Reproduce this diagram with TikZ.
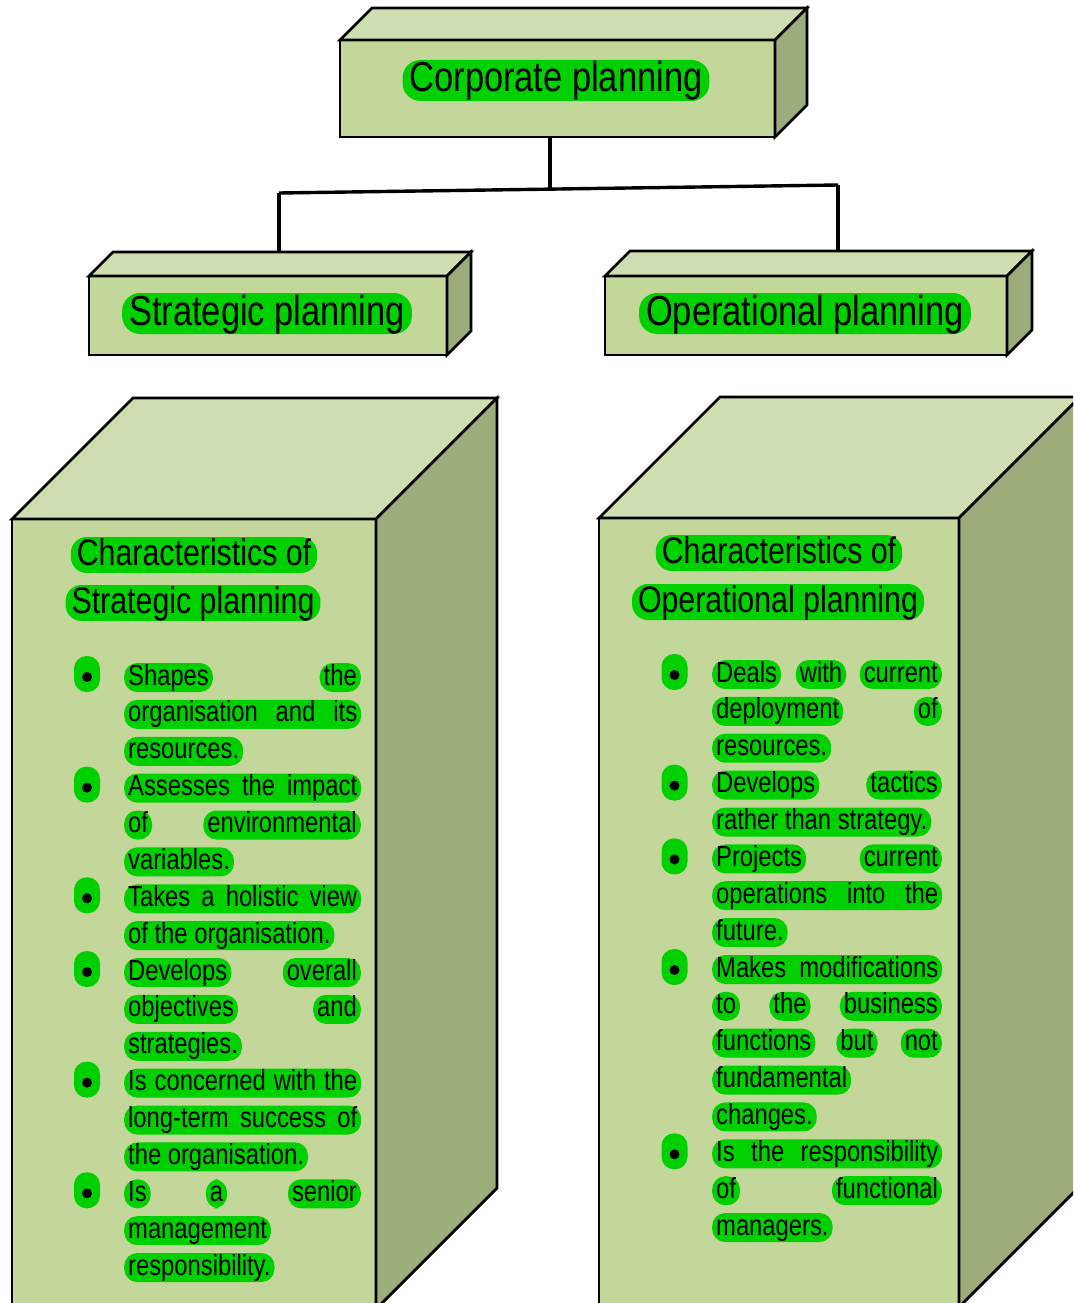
\documentclass[tikz,border=0pt]{standalone}
\usepackage{fontspec}
\setmainfont{Liberation Sans}[FakeStretch=0.82]
\usepackage{tikz}
\usetikzlibrary{calc}

\definecolor{frontgreen}{RGB}{196,215,155}
\definecolor{topgreen}{RGB}{207,222,176}
\definecolor{sidegreen}{RGB}{157,172,123}
\definecolor{hlgreen}{RGB}{0,208,0}

\newcommand{\bodyfont}{\fontsize{29pt}{35pt}\selectfont}
\newcommand{\headfont}{\fontsize{37pt}{44pt}\selectfont}
\newcommand{\titlefont}{\fontsize{42pt}{50pt}\selectfont}

% top and side faces of a block, drawn from its front node
\newcommand{\cubefaces}[2]{%
  \path[boxline, fill=topgreen] (#1.north west) -- ++(#2,-#2)
    -- ([shift={(#2,-#2)}]#1.north east) -- (#1.north east) -- cycle;
  \path[boxline, fill=sidegreen] (#1.north east) -- ++(#2,-#2)
    -- ([shift={(#2,-#2)}]#1.south east) -- (#1.south east) -- cycle;
  \coordinate (#1-back) at ([shift={(#2,-#2)}]#1.north west);
}

\tikzset{
 facebox/.style={draw=black, line width=2.8pt, fill=frontgreen, inner sep=0pt, outer sep=0pt},
 boxline/.style={draw=black, line width=2.8pt, line join=miter},
 link/.style={draw=black, line width=3.4pt},
 hl/.style={fill=hlgreen, rounded corners=13pt, inner xsep=4pt, inner ysep=1pt,
   text height=21pt, text depth=6pt, font=\bodyfont},
 headpill/.style={hl, rounded corners=16pt, inner xsep=6pt, text height=27pt,
   text depth=7pt, font=\headfont, anchor=base},
 titlepill/.style={hl, rounded corners=18pt, inner xsep=7pt, text height=31pt,
   text depth=8pt, font=\titlefont, anchor=base},
 bulletpill/.style={fill=hlgreen, rounded corners=12.5pt, minimum width=26pt,
   minimum height=36pt, inner sep=0pt}
}

\begin{document}
\begin{tikzpicture}[x=1pt, y=-1pt]
\useasboundingbox (0,0) rectangle (1073,1303);
\clip (0,0) rectangle (1073,1303);

% blocks
\path (557.5,88.5) node[name=corp, facebox, minimum width=435pt, minimum height=97pt] {};
\cubefaces{corp}{32}
\path (268,315.5) node[name=strat, facebox, minimum width=358pt, minimum height=79pt] {};
\cubefaces{strat}{24}
\path (806,315.5) node[name=oper, facebox, minimum width=402pt, minimum height=79pt] {};
\cubefaces{oper}{25}
\path (194,914) node[name=charS, facebox, minimum width=364pt, minimum height=790pt] {};
\cubefaces{charS}{121}
\path (779,912.5) node[name=charO, facebox, minimum width=360pt, minimum height=789pt] {};
\cubefaces{charO}{121}

% titles
\path (556,92) node[name=corptext, titlepill] {Corporate planning};
\path (267,325) node[name=strattext, titlepill] {Strategic planning};
\path (805,325) node[name=opertext, titlepill] {Operational planning};

% tree lines
\coordinate (fork) at (550,189);
\coordinate (forkL) at (279,193);
\coordinate (forkR) at (838,185);
\draw[link] (corp.south -| fork) -- (fork);
\draw[link] (forkL) -- (forkR);
\draw[link] (forkL) -- (forkL |- strat-back);
\draw[link] (forkR) -- (forkR |- oper-back);

% headings
\path (194,565) node[name=charShead1, headpill] {Characteristics of};
\path (193,613) node[name=charShead2, headpill] {Strategic planning};
\path (779,563) node[name=charOhead1, headpill] {Characteristics of};
\path (778,612) node[name=charOhead2, headpill] {Operational planning};

% bullets
\foreach \by [count=\k] in {685,795.6,906.3,980,1090.6,1201.3}{
  \path (87,\by-11) node[name=bS\k, bulletpill] {};
  \fill ([yshift=-3pt]bS\k.center) circle (5pt);
}
\foreach \by [count=\k] in {682,792.6,866.4,977,1161.3}{
  \path (674.5,\by-10) node[name=bO\k, bulletpill] {};
  \fill ([yshift=-3pt]bO\k.center) circle (5pt);
}

% strategic list
\path (124,685) node[name=s1a, hl, anchor=base west] {Shapes};
\path (361,685) node[name=s1b, hl, anchor=base east] {the};
\path (124,721.9) node[name=s2, hl, anchor=base west] {\makebox[229pt][s]{organisation and its}};
\path (124,758.8) node[name=s3, hl, anchor=base west] {resources.};
\path (124,795.6) node[name=s4, hl, anchor=base west] {\makebox[229pt][s]{Assesses the impact}};
\path (124,832.5) node[name=s5a, hl, anchor=base west] {of};
\path (361,832.5) node[name=s5b, hl, anchor=base east] {environmental};
\path (124,869.4) node[name=s6, hl, anchor=base west] {variables.};
\path (124,906.3) node[name=s7, hl, anchor=base west] {\makebox[229pt][s]{Takes a holistic view}};
\path (124,943.1) node[name=s8, hl, anchor=base west] {of the organisation.};
\path (124,980) node[name=s9a, hl, anchor=base west] {Develops};
\path (361,980) node[name=s9b, hl, anchor=base east] {overall};
\path (124,1016.9) node[name=s10a, hl, anchor=base west] {objectives};
\path (361,1016.9) node[name=s10b, hl, anchor=base east] {and};
\path (124,1053.8) node[name=s11, hl, anchor=base west] {strategies.};
\path (124,1090.6) node[name=s12, hl, anchor=base west] {\makebox[229pt][s]{Is concerned with the}};
\path (124,1127.5) node[name=s13, hl, anchor=base west] {\makebox[229pt][s]{long-term success of}};
\path (124,1164.4) node[name=s14, hl, anchor=base west] {the organisation.};
\path (124,1201.3) node[name=s15a, hl, anchor=base west] {Is};
\path (216.5,1201.3) node[name=s15b, hl, anchor=base] {a};
\path (361,1201.3) node[name=s15c, hl, anchor=base east] {senior};
\path (124,1238.1) node[name=s16, hl, anchor=base west] {management};
\path (124,1275) node[name=s17, hl, anchor=base west] {responsibility.};

% operational list
\path (712,682) node[name=o1a, hl, anchor=base west] {Deals};
\path (821,682) node[name=o1b, hl, anchor=base] {with};
\path (942,682) node[name=o1c, hl, anchor=base east] {current};
\path (712,718.9) node[name=o2a, hl, anchor=base west] {deployment};
\path (942,718.9) node[name=o2b, hl, anchor=base east] {of};
\path (712,755.7) node[name=o3, hl, anchor=base west] {resources.};
\path (712,792.6) node[name=o4a, hl, anchor=base west] {Develops};
\path (942,792.6) node[name=o4b, hl, anchor=base east] {tactics};
\path (712,829.5) node[name=o5, hl, anchor=base west] {rather than strategy.};
\path (712,866.4) node[name=o6a, hl, anchor=base west] {Projects};
\path (942,866.4) node[name=o6b, hl, anchor=base east] {current};
\path (712,903.2) node[name=o7, hl, anchor=base west] {\makebox[222pt][s]{operations into the}};
\path (712,940.1) node[name=o8, hl, anchor=base west] {future.};
\path (712,977) node[name=o9, hl, anchor=base west] {\makebox[222pt][s]{Makes modifications}};
\path (712,1013.8) node[name=o10a, hl, anchor=base west] {to};
\path (790,1013.8) node[name=o10b, hl, anchor=base] {the};
\path (942,1013.8) node[name=o10c, hl, anchor=base east] {business};
\path (712,1050.7) node[name=o11a, hl, anchor=base west] {functions};
\path (857,1050.7) node[name=o11b, hl, anchor=base] {but};
\path (942,1050.7) node[name=o11c, hl, anchor=base east] {not};
\path (712,1087.6) node[name=o12, hl, anchor=base west] {fundamental};
\path (712,1124.4) node[name=o13, hl, anchor=base west] {changes.};
\path (712,1161.3) node[name=o14, hl, anchor=base west] {\makebox[222pt][s]{Is the responsibility}};
\path (712,1198.2) node[name=o15a, hl, anchor=base west] {of};
\path (942,1198.2) node[name=o15b, hl, anchor=base east] {functional};
\path (712,1235) node[name=o16, hl, anchor=base west] {managers.};
\end{tikzpicture}
\end{document}
